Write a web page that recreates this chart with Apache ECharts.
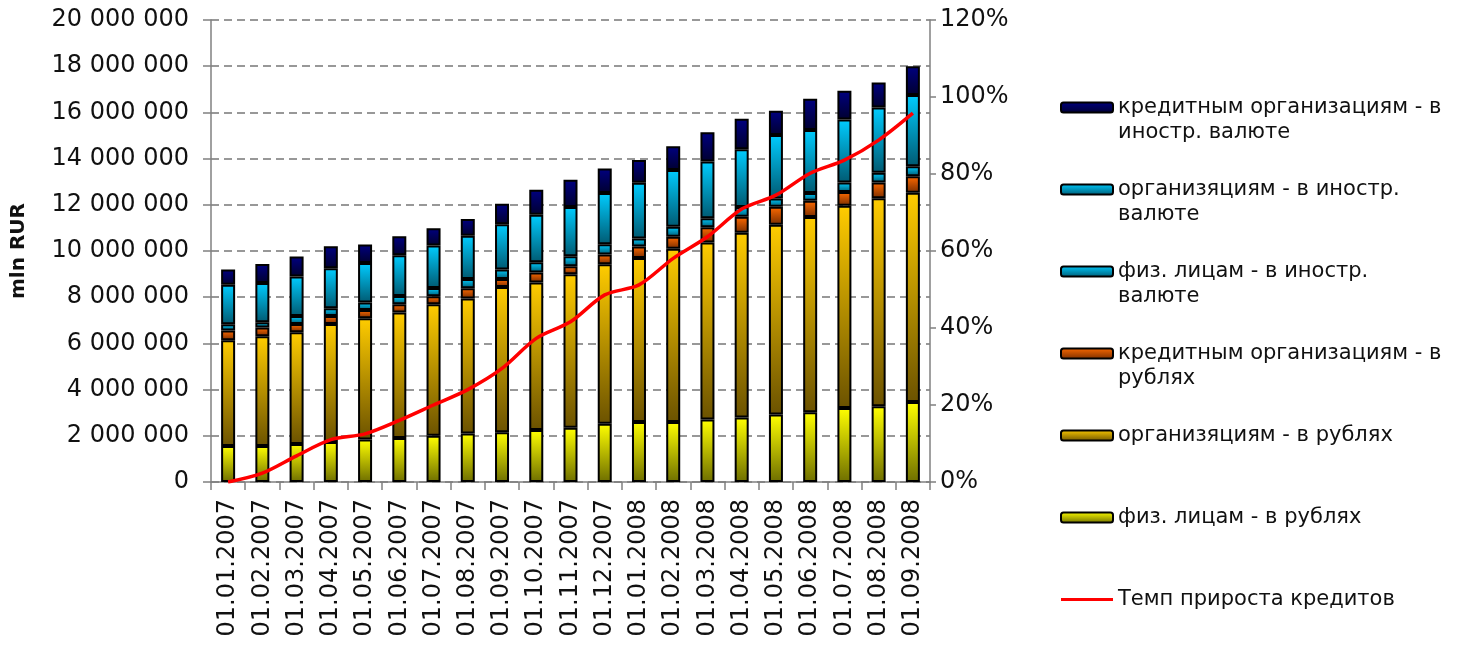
<!DOCTYPE html>
<html lang="ru">
<head>
    <meta charset="UTF-8">
    <title>Кредиты</title>
    <script src="https://cdn.jsdelivr.net/npm/echarts@6/dist/echarts.min.js"></script>
</head>
<style>
html,body{margin:0;padding:0;background-color:#fff}
#chartBox{width:1459px;height:648px}
</style>
<body>
    <div id="chartBox"></div>
</body>
<script>
// даты (категории)
const categories = ['01.01.2007','01.02.2007','01.03.2007','01.04.2007','01.05.2007','01.06.2007','01.07.2007',
    '01.08.2007','01.09.2007','01.10.2007','01.11.2007','01.12.2007','01.01.2008','01.02.2008','01.03.2008',
    '01.04.2008','01.05.2008','01.06.2008','01.07.2008','01.08.2008','01.09.2008'];
// млн руб., снизу вверх по стеку
const fizRub   = [1560000,1560000,1650000,1730000,1840000,1910000,2000000,2100000,2150000,2250000,2350000,2520000,2600000,2600000,2710000,2790000,2920000,3020000,3200000,3280000,3460000];
const orgRub   = [4580000,4750000,4830000,5110000,5250000,5430000,5690000,5840000,6290000,6390000,6640000,6910000,7100000,7500000,7660000,8000000,8220000,8450000,8760000,9000000,9060000];
const kredRub  = [420000,380000,360000,350000,360000,360000,350000,450000,350000,430000,350000,420000,490000,520000,660000,690000,780000,700000,590000,690000,720000];
const fizVal   = [270000,230000,350000,330000,320000,350000,360000,400000,410000,440000,430000,440000,350000,430000,390000,430000,350000,340000,410000,420000,430000];
const orgVal   = [1710000,1700000,1710000,1730000,1710000,1770000,1840000,1870000,1960000,2060000,2130000,2220000,2410000,2460000,2450000,2490000,2750000,2730000,2730000,2820000,3080000];
const kredVal  = [660000,820000,860000,960000,800000,820000,750000,720000,890000,1080000,1180000,1060000,990000,1020000,1270000,1320000,1050000,1350000,1250000,1080000,1250000];
// темп прироста, %
const growth   = [0,2.3,6.8,11,12.5,16,20,24,29.5,37.3,41.6,48.6,51.2,58.1,63.7,70.9,74.5,80.2,83.6,88.8,95.8];

const FONT = 'DejaVu Sans';

function grad(top, bottom){
    return new echarts.graphic.LinearGradient(0, 0, 0, 1, [
        {offset: 0, color: top},
        {offset: 1, color: bottom}
    ]);
}
function fmtNum(v){
    return String(v).replace(/\B(?=(\d{3})+(?!\d))/g, ' ');
}
function barSeries(name, data, top, bottom){
    return {
        type: 'bar',
        name: name,
        stack: 'total',
        barWidth: 14,
        data: data,
        itemStyle: {
            color: grad(top, bottom),
            borderColor: '#000',
            borderWidth: 2
        }
    };
}
// подписи легенды с переносом строк
const legendText = {
    'кредитным организациям - в иностр. валюте': '\nкредитным организациям - в\nиностр. валюте',
    'организяциям - в иностр. валюте': '\nорганизяциям - в иностр.\nвалюте',
    'физ. лицам - в иностр. валюте': '\nфиз. лицам - в иностр.\nвалюте',
    'кредитным организациям - в рублях': '\nкредитным организациям - в\nрублях',
    'организяциям - в рублях': '\nорганизяциям - в рублях\n',
    'физ. лицам - в рублях': '\nфиз. лицам - в рублях\n',
    'Темп прироста кредитов': '\nТемп прироста кредитов\n'
};

let chartObj = echarts.init(document.getElementById('chartBox'));
let option = {
    animation: false,
    textStyle: {fontFamily: FONT},
    grid: {left: 211, right: 529, top: 20, bottom: 166},
    xAxis: {
        type: 'category',
        data: categories,
        axisLine: {lineStyle: {color: '#808080', width: 1.5}},
        axisTick: {show: true, length: 8, lineStyle: {color: '#808080', width: 1.5}},
        axisLabel: {rotate: 90, fontSize: 24, color: '#111', margin: 17, fontFamily: FONT}
    },
    yAxis: [
        {
            type: 'value',
            min: 0, max: 20000000, interval: 2000000,
            name: 'mln RUR',
            nameLocation: 'middle',
            nameGap: 182,
            nameTextStyle: {fontSize: 20, fontWeight: 'bold', color: '#111', fontFamily: FONT},
            axisLine: {show: true, lineStyle: {color: '#808080', width: 1.5}},
            axisTick: {show: true, length: 8, lineStyle: {color: '#808080', width: 1.5}},
            axisLabel: {fontSize: 24, color: '#111', margin: 22, fontFamily: FONT, formatter: fmtNum},
            splitLine: {show: true, lineStyle: {color: '#777', type: [8, 5], width: 1.5}}
        },
        {
            type: 'value',
            min: 0, max: 120, interval: 20,
            position: 'right',
            axisLine: {show: true, lineStyle: {color: '#808080', width: 1.5}},
            axisTick: {show: true, length: 6, lineStyle: {color: '#808080', width: 1.5}},
            axisLabel: {fontSize: 24, color: '#111', margin: 10, fontFamily: FONT, formatter: '{value}%'},
            splitLine: {show: false}
        }
    ],
    legend: {
        orient: 'vertical',
        left: 1055,
        top: 65,
        itemWidth: 52,
        itemHeight: 10,
        itemGap: 7,
        data: ['кредитным организациям - в иностр. валюте', 'организяциям - в иностр. валюте',
            'физ. лицам - в иностр. валюте', 'кредитным организациям - в рублях',
            'организяциям - в рублях', 'физ. лицам - в рублях',
            {
                name: 'Темп прироста кредитов',
                icon: 'path://M0,0L1,0M0,3.5L52,3.5L52,6.5L0,6.5ZM0,10L1,10',
                itemStyle: {color: '#ff0000', borderWidth: 0}
            }],
        formatter: function(name){ return legendText[name]; },
        textStyle: {fontSize: 21, lineHeight: 25, color: '#111', fontFamily: FONT}
    },
    series: [
        barSeries('физ. лицам - в рублях', fizRub, '#ffff00', '#6e6e00'),
        barSeries('организяциям - в рублях', orgRub, '#ffcc00', '#6b5200'),
        barSeries('кредитным организациям - в рублях', kredRub, '#ff6a00', '#7a2e00'),
        barSeries('физ. лицам - в иностр. валюте', fizVal, '#00ccff', '#005a72'),
        barSeries('организяциям - в иностр. валюте', orgVal, '#00ccff', '#005a72'),
        barSeries('кредитным организациям - в иностр. валюте', kredVal, '#000080', '#000030'),
        {
            type: 'line',
            name: 'Темп прироста кредитов',
            yAxisIndex: 1,
            smooth: 0.3,
            symbol: 'none',
            data: growth,
            itemStyle: {color: '#ff0000'},
            lineStyle: {color: '#ff0000', width: 3.5}
        }
    ]
};
chartObj.setOption(option);
</script>
</html>
